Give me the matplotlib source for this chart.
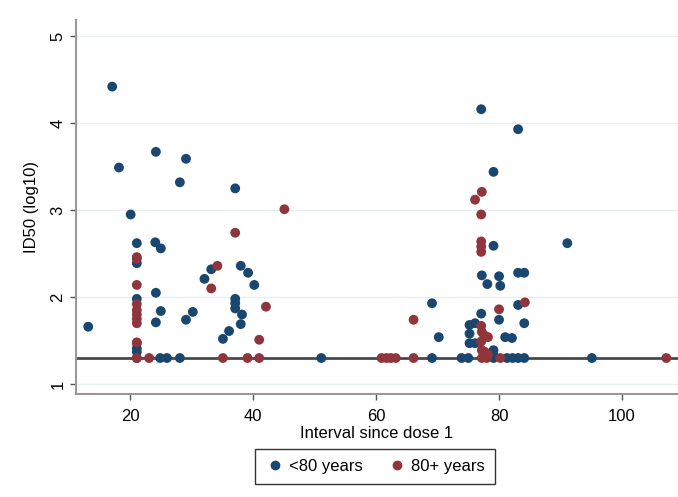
import matplotlib
matplotlib.use("Agg")
import matplotlib.pyplot as plt
from matplotlib.lines import Line2D

plt.rcParams['font.family'] = ['Liberation Sans', 'DejaVu Sans']

# <80 years group: interval since dose 1 (days) and ID50 (log10)
young_x = [13.2, 17.1, 18.2, 20.1, 21.1, 21.1, 21.1, 21.1, 21.1, 21.1, 21.1,
           24.1, 25.0, 24.2, 25.0, 24.2, 24.9, 26.0, 28.1,
           24.2, 29.1, 28.1, 37.1,
           29.1, 30.2, 32.1, 33.2, 38.0, 39.2, 40.2,
           37.1, 37.1, 37.1, 38.2, 38.0, 36.1, 35.1,
           51.1, 69.1, 69.1, 70.2,
           77.1, 83.1, 79.1, 79.1,
           77.2, 80.0, 78.1, 80.2, 83.1, 84.1, 83.1,
           77.1, 80.0, 84.1, 76.1, 75.2, 75.2, 81.0, 82.1, 75.2, 76.1, 79.1, 79.1,
           73.9, 75.0, 79.1, 81.3, 82.2, 83.1, 84.1,
           91.1, 95.1]
young_y = [1.66, 4.42, 3.49, 2.95, 2.62, 2.39, 1.98, 1.47, 1.41, 1.37, 1.30,
           2.63, 2.56, 2.05, 1.84, 1.71, 1.30, 1.30, 1.30,
           3.67, 3.59, 3.32, 3.25,
           1.74, 1.83, 2.21, 2.32, 2.36, 2.28, 2.14,
           1.98, 1.93, 1.87, 1.80, 1.69, 1.61, 1.52,
           1.30, 1.93, 1.30, 1.54,
           4.16, 3.93, 3.44, 2.59,
           2.25, 2.24, 2.15, 2.13, 2.28, 2.28, 1.91,
           1.81, 1.74, 1.70, 1.70, 1.68, 1.58, 1.54, 1.53, 1.47, 1.47, 1.39, 1.33,
           1.30, 1.30, 1.30, 1.30, 1.30, 1.30, 1.30,
           2.62, 1.30]

# 80+ years group
old_x = [21.1, 21.1, 21.1, 21.1, 21.1, 21.1, 21.1, 21.1, 21.1, 21.1, 23.1,
         37.1, 34.2, 33.2, 42.1, 41.0, 45.1,
         35.1, 39.1, 41.0,
         60.9, 61.7, 62.4, 63.2, 66.1, 66.1,
         77.2, 76.1, 77.1, 77.1, 77.1, 77.1,
         84.2, 80.0, 77.1, 77.2, 77.6, 78.2, 77.1, 77.2, 77.7, 78.2,
         77.2, 78.0, 80.2, 107.2]
old_y = [2.46, 2.44, 2.14, 1.92, 1.85, 1.80, 1.75, 1.70, 1.48, 1.30, 1.30,
         2.74, 2.36, 2.10, 1.89, 1.51, 3.01,
         1.30, 1.30, 1.30,
         1.30, 1.30, 1.30, 1.30, 1.74, 1.30,
         3.21, 3.12, 2.95, 2.64, 2.58, 2.52,
         1.94, 1.86, 1.67, 1.60, 1.56, 1.54, 1.49, 1.39, 1.37, 1.34,
         1.30, 1.30, 1.30, 1.30]

threshold = 1.3
navy = '#1a476f'
maroon = '#90353b'

fig = plt.figure(figsize=(6.78, 4.97), dpi=100)
ax = fig.add_axes([0.112, 0.207, 0.888, 0.7525])

ax.set_xlim(11.2, 109.1)
ax.set_ylim(0.885, 5.184)

# light grid at each y tick
for v in [1, 2, 3, 4, 5]:
    ax.axhline(v, color='#e6eef0', lw=1.0, zorder=0)

ax.axhline(threshold, color='#4a4a4a', lw=2.0, zorder=1)

ax.scatter(young_x, young_y, s=50, color=navy, edgecolors='none', zorder=3)
ax.scatter(old_x, old_y, s=50, color=maroon, edgecolors='none', zorder=4)

ax.set_xticks([20, 40, 60, 80, 100])
ax.set_yticks([1, 2, 3, 4, 5])
ax.set_yticklabels(['1', '2', '3', '4', '5'], rotation=90, va='center')
ax.tick_params(axis='both', colors='#555555', labelcolor='black',
               labelsize=12, length=4, width=1)
ax.tick_params(axis='x', pad=7)

for side in ['top', 'right']:
    ax.spines[side].set_visible(False)
for side in ['left', 'bottom']:
    ax.spines[side].set_color('#999999')
    ax.spines[side].set_linewidth(1.5)

ax.set_xlabel('Interval since dose 1', fontsize=12, labelpad=1)
ax.set_ylabel('ID50 (log10)', fontsize=12, labelpad=8)

handles = [Line2D([], [], marker='o', ls='none', color=navy, markersize=6),
           Line2D([], [], marker='o', ls='none', color=maroon, markersize=6)]
leg = fig.legend(handles, ['<80 years', '80+ years'], loc='center',
                 bbox_to_anchor=(0.553, 0.061), ncol=2, frameon=True,
                 fontsize=12, fancybox=False, handletextpad=0.2,
                 columnspacing=1.5, borderpad=0.6, handlelength=1.2)
leg.get_frame().set_edgecolor('black')
leg.get_frame().set_linewidth(1.0)

fig.savefig('out.png', dpi=100)
